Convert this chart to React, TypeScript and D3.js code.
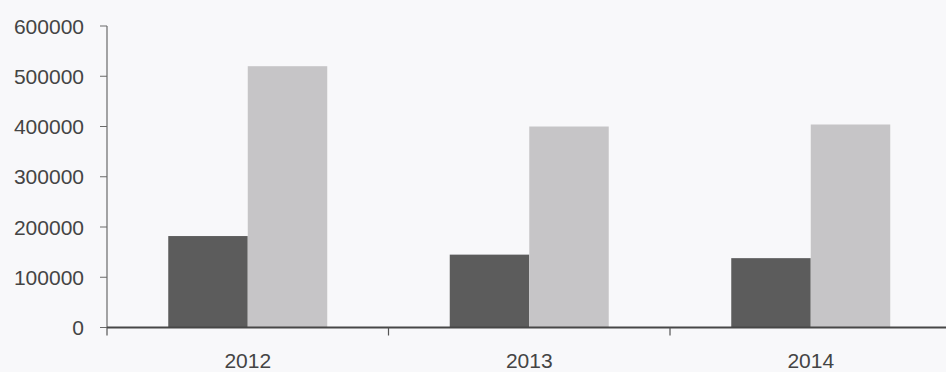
import React from "react";
import * as d3 from "d3";

const categories = ["2012", "2013", "2014"];
const seriesDark = [182000, 145000, 138000];
const seriesLight = [520000, 400000, 404000];
const yTicks = [0, 100000, 200000, 300000, 400000, 500000, 600000];

const W = 946;
const H = 372;
const margin = { left: 107, top: 26, bottom: 44 };
const plotRight = 951.5;

export default function App() {
  const x = d3
    .scaleBand<string>()
    .domain(categories)
    .range([margin.left, plotRight])
    .paddingInner(0)
    .paddingOuter(0);
  const y = d3.scaleLinear().domain([0, 600000]).range([H - margin.bottom - 0.5 + 0.5 - 0, margin.top]);
  // y(0) should be ~327.5
  y.range([327.5, 26]);

  const barW = 79.5;
  const series = [
    { values: seriesDark, color: "#5c5c5c", offset: -barW },
    { values: seriesLight, color: "#c6c5c7", offset: 0 },
  ];

  const boundaries = categories.map((c) => x(c) as number).slice(1);

  return (
    <svg
      width={W}
      height={H}
      style={{ position: "fixed", left: 0, top: 0, display: "block" }}
      fontFamily="'Liberation Sans', Arial, sans-serif"
    >
      <rect x={0} y={0} width={W} height={H} fill="#f8f8fa" />
      {series.map((s, si) =>
        categories.map((c, i) => {
          const cx = (x(c) as number) + x.bandwidth() / 2;
          return (
            <rect
              key={`${si}-${c}`}
              x={cx + s.offset}
              y={y(s.values[i])}
              width={barW}
              height={y(0) - y(s.values[i])}
              fill={s.color}
            />
          );
        })
      )}
      {/* y axis */}
      <line x1={107} x2={107} y1={y(600000)} y2={y(0)} stroke="#6a6a6a" strokeWidth={1.2} />
      {yTicks.map((t) => (
        <g key={t}>
          <line x1={100} x2={107} y1={y(t)} y2={y(t)} stroke="#6a6a6a" strokeWidth={1} />
          <text x={84} y={y(t)} dy="0.36em" textAnchor="end" fontSize={21} fill="#444">
            {t}
          </text>
        </g>
      ))}
      {/* x axis */}
      <line x1={107} x2={W} y1={y(0)} y2={y(0)} stroke="#474747" strokeWidth={2} />
      {boundaries.map((b) => (
        <line key={b} x1={b} x2={b} y1={y(0)} y2={y(0) + 8} stroke="#555" strokeWidth={1.2} />
      ))}
      <line x1={107} x2={107} y1={y(0)} y2={y(0) + 8} stroke="#555" strokeWidth={1.2} />
      {categories.map((c) => (
        <text
          key={c}
          x={(x(c) as number) + x.bandwidth() / 2}
          y={368}
          textAnchor="middle"
          fontSize={21}
          fill="#444"
        >
          {c}
        </text>
      ))}
    </svg>
  );
}
